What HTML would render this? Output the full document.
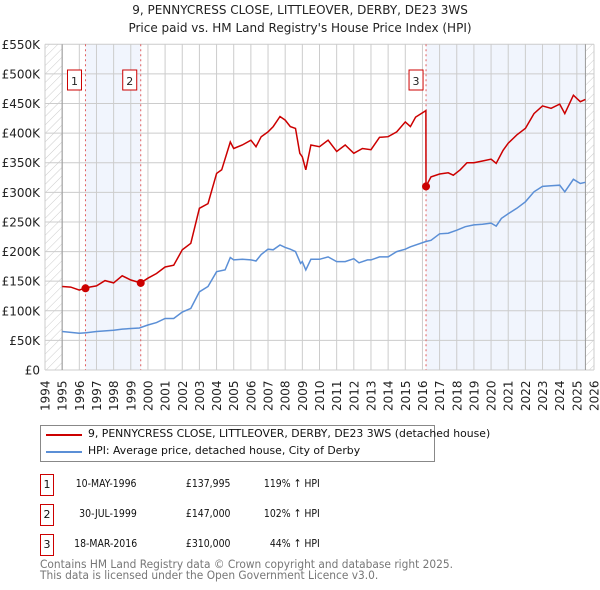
<!DOCTYPE html>
<html><head><meta charset="utf-8">
<style>
body{margin:0;background:#fff;font-family:"DejaVu Sans","Liberation Sans",sans-serif;}
#wrap{position:relative;width:600px;height:590px;overflow:hidden;}
</style></head>
<body><div id="wrap">
<svg id="svg" width="600" height="590" xmlns="http://www.w3.org/2000/svg" font-family="DejaVu Sans, Liberation Sans, sans-serif">
<defs><pattern id="hatch" width="6" height="6" patternUnits="userSpaceOnUse" patternTransform="rotate(45)"><line x1="0" y1="0" x2="0" y2="6" stroke="#ccc" stroke-width="1"/></pattern></defs>
<text x="300" y="14" text-anchor="middle" font-size="12" fill="#222">9, PENNYCRESS CLOSE, LITTLEOVER, DERBY, DE23 3WS</text>
<text x="300" y="32" text-anchor="middle" font-size="12" fill="#222">Price paid vs. HM Land Registry's House Price Index (HPI)</text>
<g id="plot"></g>
</svg>
<div style="position:absolute;left:40px;top:425px;width:393px;height:35px;border:1px solid #888;font-size:10.85px;color:#111">
 <div style="position:absolute;left:5px;top:8px;width:36px;height:2px;background:#cc0000"></div>
 <div style="position:absolute;left:47px;top:1px;white-space:nowrap">9, PENNYCRESS CLOSE, LITTLEOVER, DERBY, DE23 3WS (detached house)</div>
 <div style="position:absolute;left:5px;top:25px;width:36px;height:2px;background:#5b8fd6"></div>
 <div style="position:absolute;left:47px;top:18px;white-space:nowrap">HPI: Average price, detached house, City of Derby</div>
</div>
<div id="table" style="font-size:11px;color:#111"></div>
<div style="position:absolute;left:40px;top:559px;font-size:11.3px;line-height:11px;color:#777;transform:scaleX(0.94);transform-origin:left top;white-space:nowrap">Contains HM Land Registry data © Crown copyright and database right 2025.<br>This data is licensed under the Open Government Licence v3.0.</div>
</div>
<script>
const yTicks=[0,50,100,150,200,250,300,350,400,450,500,550];
const hpiYears=[1995,1996,1996.4,1997,1998,1998.5,1999.5,2000,2000.5,2001,2001.5,2002,2002.5,2003,2003.5,2004,2004.5,2004.8,2005,2005.5,2006,2006.3,2006.6,2007,2007.3,2007.7,2008,2008.3,2008.6,2008.9,2009,2009.2,2009.5,2010,2010.5,2011,2011.5,2012,2012.3,2012.8,2013,2013.5,2014,2014.5,2015,2015.3,2016.2,2016.5,2017,2017.5,2018,2018.5,2019,2019.5,2020,2020.3,2020.6,2021,2021.5,2022,2022.5,2023,2023.5,2024,2024.3,2024.8,2025.2,2025.5];
const hpiValues=[65,62,63,65,67,69,71,76,80,87,87,98,104,132,141,166,169,190,186,187,186,184,195,204,203,211,207,204,200,180,183,169,187,187,191,183,183,188,181,186,186,191,191,200,204,208,217,219,230,231,236,242,245,246,248,243,256,264,273,284,301,310,311,312,301,322,315,317];
const redYears=[1995,1995.5,1996,1996.37,1997,1997.5,1998,1998.5,1999,1999.58,2000,2000.5,2001,2001.5,2002,2002.5,2003,2003.5,2004,2004.3,2004.8,2005,2005.5,2006,2006.3,2006.6,2007,2007.3,2007.7,2008,2008.3,2008.6,2008.85,2009,2009.2,2009.5,2010,2010.5,2011,2011.5,2012,2012.5,2013,2013.5,2014,2014.5,2015,2015.3,2015.6,2016.2,2016.21,2016.5,2017,2017.5,2017.8,2018.2,2018.6,2019,2019.5,2020,2020.3,2020.7,2021,2021.5,2022,2022.5,2023,2023.5,2024,2024.3,2024.8,2025.2,2025.5];
const redValues=[141,140,135,139,142,151,147,159,152,147,155,163,174,177,203,214,273,281,332,338,385,374,380,388,377,394,402,411,428,422,411,408,366,360,338,380,377,388,369,380,366,374,372,393,394,402,419,411,427,438,310,326,331,333,329,338,350,350,353,356,349,371,383,397,408,433,446,442,449,433,464,453,457];
const saleLabels=["1","2","3"];
const saleYears=[1996.36,1999.58,2016.21];
const saleValues=[137.995,147,310];
const saleDates=["10-MAY-1996","30-JUL-1999","18-MAR-2016"];
const salePrices=["£137,995","£147,000","£310,000"];
const saleHpi=["119% ↑ HPI","102% ↑ HPI","44% ↑ HPI"];

const X0=45,X1=594,Y0=370,Y1=44.3,yearMin=1994,yearMax=2026,vMax=550;
const xs=y=>X0+(y-yearMin)/(yearMax-yearMin)*(X1-X0);
const ys=v=>Y0-v/vMax*(Y0-Y1);
const NS="http://www.w3.org/2000/svg";
const g=document.getElementById('plot');
function mk(t,a,p){const e=document.createElementNS(NS,t);for(const k in a)e.setAttribute(k,a[k]);(p||g).appendChild(e);return e;}

let e;
e=mk('rect',{x:xs(saleYears[0]),y:Y1,width:xs(saleYears[1])-xs(saleYears[0]),height:Y0-Y1,fill:'#eef3fc',opacity:0.8});


e=mk('rect',{x:xs(saleYears[2]),y:Y1,width:xs(2025.5)-xs(saleYears[2]),height:Y0-Y1,fill:'#eef3fc',opacity:0.8});


e=mk('rect',{x:X0,y:Y1,width:xs(1995)-X0,height:Y0-Y1,fill:'url(#hatch)'});


e=mk('rect',{x:xs(2025.5),y:Y1,width:X1-xs(2025.5),height:Y0-Y1,fill:'url(#hatch)'});



for(let yr=yearMin;yr<=yearMax;yr++){
 e=mk('line',{x1:xs(yr),x2:xs(yr),y1:Y1,y2:Y0,stroke:'#ccc','stroke-width':1});
 
 
 e=mk('text',{x:0,y:0,transform:`translate(${xs(yr)+4.5},${Y0+41}) rotate(-90)`,'font-size':12,fill:'#222'});
 e.textContent=yr;
 
 
}
yTicks.forEach(v=>{
 e=mk('line',{x1:X0,x2:X1,y1:ys(v),y2:ys(v),stroke:'#ccc','stroke-width':1});
 
 
 e=mk('text',{x:40,y:ys(v)+4.5,'text-anchor':'end','font-size':12,fill:'#222'});
 e.textContent=v===0?'£0':'£'+v+'K';
 
 
});
e=mk('line',{x1:xs(1995),x2:xs(1995),y1:Y1,y2:Y0,stroke:'#999','stroke-width':1});


e=mk('line',{x1:xs(2025.5),x2:xs(2025.5),y1:Y1,y2:Y0,stroke:'#999','stroke-width':1});



saleYears.forEach((yr,i)=>{
 e=mk('line',{x1:xs(yr),x2:xs(yr),y1:Y1,y2:Y0,stroke:'#e06060','stroke-width':1,'stroke-dasharray':'2,3'});
 
 
 const bx=i===2?xs(yr)-17:xs(yr)-18;
 e=mk('rect',{x:bx,y:70,width:14,height:20,fill:'#fff',stroke:'#cc0000'});
 
 
 e=mk('text',{x:bx+7,y:85,'text-anchor':'middle','font-size':11,fill:'#222'});
 e.textContent=saleLabels[i];
 
 
});

function path(xv,yv){return xv.map((x,i)=>(i?'L':'M')+xs(x).toFixed(1)+','+ys(yv[i]).toFixed(1)).join('');}
e=mk('path',{d:path(hpiYears,hpiValues),fill:'none',stroke:'#5b8fd6','stroke-width':1.5});


e=mk('path',{d:path(redYears,redValues),fill:'none',stroke:'#cc0000','stroke-width':1.5});


saleYears.forEach((yr,i)=>{
 e=mk('circle',{cx:xs(yr),cy:ys(saleValues[i]),r:4,fill:'#cc0000'});
 
 
});

const tb=document.getElementById('table');
const rowY=[474,504,534];
saleLabels.forEach((l,i)=>{
 const d=document.createElement('div');
 d.style.cssText=`position:absolute;left:40px;top:${rowY[i]}px;width:12px;height:20px;border:1px solid #cc0000;text-align:center;line-height:19px`;
 d.textContent=l;
 
 
 tb.appendChild(d);
 [[saleDates[i],137],[salePrices[i],230],[saleHpi[i],320]].forEach(([t,x],j)=>{
  const s=document.createElement('div');
  s.style.cssText=`position:absolute;right:${600-x}px;top:${rowY[i]+3}px;white-space:nowrap;transform:scaleX(0.85);transform-origin:right top`;
  s.textContent=t;
  
  
  tb.appendChild(s);
 });
});
</script>
</body></html>
